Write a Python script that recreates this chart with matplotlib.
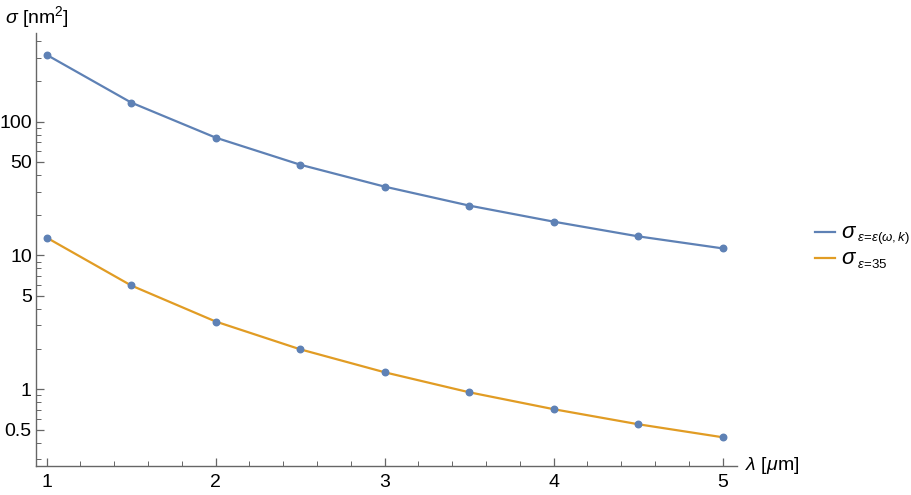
import numpy as np
import matplotlib.pyplot as plt
from matplotlib.lines import Line2D
from matplotlib.ticker import FixedLocator, NullFormatter, FixedFormatter

plt.rcParams['font.family'] = ['Liberation Sans', 'DejaVu Sans']
plt.rcParams['mathtext.fontset'] = 'custom'
plt.rcParams['mathtext.rm'] = 'Liberation Sans'
plt.rcParams['mathtext.it'] = 'Liberation Sans:italic'
plt.rcParams['mathtext.bf'] = 'Liberation Sans:bold'

# wavelength in micrometres
wavelength = [1.0, 1.5, 2.0, 2.5, 3.0, 3.5, 4.0, 4.5, 5.0]
# cross sections in nm^2
sigma_dispersive = [316, 139, 76, 47.7, 32.7, 23.6, 17.9, 13.9, 11.3]
sigma_const = [13.6, 5.97, 3.21, 1.99, 1.34, 0.95, 0.71, 0.548, 0.438]

y_major = [0.5, 1, 5, 10, 50, 100]
y_major_labels = ['0.5', '1', '5', '10', '50', '100']
x_major = [1, 2, 3, 4, 5]

# legend subscripts (drawn after a big sigma)
legend_subs = [r'$\varepsilon\!=\!\varepsilon(\omega,k)$', r'$\varepsilon\!=\!\mathrm{35}$']

blue = '#5E81B5'
orange = '#E19C24'
axis_grey = '#666666'

fig = plt.figure(figsize=(9.11, 4.95), dpi=100)
ax = fig.add_axes([36 / 911, 29.5 / 495, 701 / 911, 432.5 / 495])

ax.plot(wavelength, sigma_dispersive, color=blue, lw=1.6)
ax.plot(wavelength, sigma_const, color=orange, lw=1.6)
# the sample points are all drawn in the first colour
ax.scatter(wavelength, sigma_dispersive, color=blue, s=22, zorder=3)
ax.scatter(wavelength, sigma_const, color=blue, s=22, zorder=3)

ax.set_yscale('log')
ax.set_xlim(0.937, 5.085)
ax.set_ylim(0.2694, 460)

# ticks like Mathematica: inward, grey
minor_y = []
for dec in [0.1, 1, 10, 100]:
    for m in range(2, 10):
        v = m * dec
        if v not in y_major:
            minor_y.append(v)
ax.yaxis.set_major_locator(FixedLocator(y_major))
ax.yaxis.set_major_formatter(FixedFormatter(y_major_labels))
ax.yaxis.set_minor_locator(FixedLocator(minor_y))
ax.yaxis.set_minor_formatter(NullFormatter())
ax.xaxis.set_major_locator(FixedLocator(x_major))
ax.xaxis.set_minor_locator(FixedLocator(np.arange(1.2, 5.0, 0.2)))

ax.tick_params(which='both', direction='in', color=axis_grey, labelsize=14)
ax.tick_params(which='major', length=6, width=0.9)
ax.tick_params(which='minor', length=3.5, width=0.7)
ax.tick_params(axis='x', pad=6)
ax.tick_params(axis='y', pad=3)

for side in ['top', 'right']:
    ax.spines[side].set_visible(False)
for side in ['left', 'bottom']:
    ax.spines[side].set_color(axis_grey)
    ax.spines[side].set_linewidth(1.0)

fig.text(5 / 911, 1 - 17 / 495, r'$\sigma$ [nm$^\mathrm{2}$]', fontsize=14,
         va='center', ha='left')
fig.text(745 / 911, 1 - 465 / 495, r'$\lambda$ [$\mu$m]', fontsize=14,
         va='center', ha='left')

# legend outside on the right, built by hand so the subscript stays compact
for i, (col, sub) in enumerate(zip([blue, orange], legend_subs)):
    yc = 1 - (232 + 26 * i) / 495
    fig.add_artist(Line2D([815 / 911, 835 / 911], [yc, yc], color=col, lw=1.6,
                          transform=fig.transFigure))
    fig.text(841 / 911, yc, r'$\sigma$', fontsize=16, va='center', ha='left')
    fig.text(857 / 911, yc - 6 / 495, sub, fontsize=9.5, va='center', ha='left')

fig.savefig('out.png', dpi=100)
